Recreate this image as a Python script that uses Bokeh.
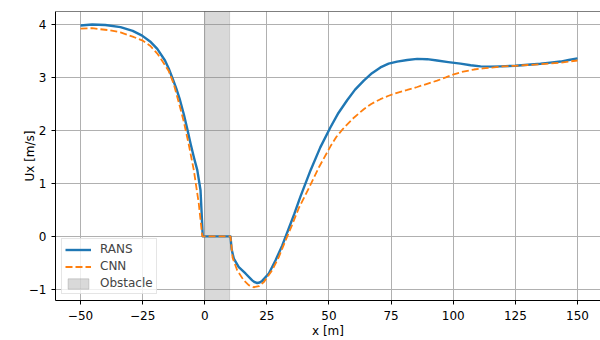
from bokeh.plotting import figure
from bokeh.models import Span, FixedTicker, Range1d, Legend, LegendItem
from bokeh.embed import file_html
from bokeh.resources import INLINE

# ---- data ----
rans_x = [-50, -45.3, -40, -33.9, -29, -25.2, -22, -19.1, -16, -14.5, -13.1, -11.5, -10, -8.4, -7, -5.7,
          -4.3, -3.0, -1.7, -0.8,
          10.36, 10.8, 11.7, 13.7, 16.4, 19.1, 20.1, 21.1, 22.1, 23.1, 25.8, 28.5, 31.2, 33.8, 36, 38.5,
          42.6, 46.5, 50.6, 53.8, 57.3, 60.5, 64.0, 67.3, 70.7, 74, 77.4, 81.5, 85.5, 89.5, 93.5, 98,
          102.9, 107, 111, 115, 119, 125, 130, 135.1, 139, 143.2, 146.5, 150]
rans_y = [3.98, 4.00, 3.99, 3.95, 3.88, 3.79, 3.68, 3.54, 3.32, 3.17, 3.00, 2.80, 2.58, 2.30, 2.02, 1.75,
          1.48, 1.25, 0.87, 0.0,
          0.0, -0.24, -0.42, -0.58, -0.70, -0.83, -0.865, -0.88, -0.87, -0.84, -0.70, -0.45, -0.17, 0.15, 0.42, 0.75,
          1.25, 1.68, 2.06, 2.33, 2.57, 2.77, 2.94, 3.08, 3.19, 3.26, 3.30, 3.33, 3.35, 3.345, 3.32, 3.29,
          3.26, 3.23, 3.21, 3.205, 3.21, 3.22, 3.24, 3.26, 3.28, 3.30, 3.33, 3.36]

cnn_x = [-50, -45.3, -42, -38, -33.9, -29, -25.2, -22, -19.1, -16.5, -14.5, -12.5, -10.4, -8.4, -6.5, -4.4,
         -2.4, -1.0, 10.36, 11.2, 13.05, 15.7, 17.7, 19.7, 21.8, 23.8, 27.1, 29.8, 32.5, 35, 38, 42,
         45.9, 50.6, 53, 56.0, 60, 64.0, 67, 70.7, 74, 77.4, 81.5, 85.5, 89.5, 93.5, 97, 100.2,
         104, 108.3, 112, 116.3, 120, 125, 130, 135.1, 139, 143.2, 146.5, 150]
cnn_y = [3.92, 3.93, 3.91, 3.89, 3.85, 3.77, 3.70, 3.60, 3.45, 3.27, 3.12, 2.88, 2.52, 2.16, 1.75, 1.25,
         0.62, 0.0, 0.0, -0.40, -0.64, -0.83, -0.92, -0.96, -0.94, -0.86, -0.64, -0.39, -0.08, 0.20, 0.55, 0.92,
         1.30, 1.70, 1.88, 2.05, 2.24, 2.40, 2.50, 2.59, 2.655, 2.71, 2.765, 2.82, 2.88, 2.94, 3.00, 3.06,
         3.11, 3.15, 3.17, 3.19, 3.21, 3.22, 3.235, 3.25, 3.265, 3.28, 3.30, 3.32]

obstacle_left = [0]
obstacle_right = [10]

x_ticks = [-50, -25, 0, 25, 50, 75, 100, 125, 150]
y_ticks = [-1, 0, 1, 2, 3, 4]

FONT = "DejaVu Sans"
FS = "12px"
X0, X1 = -60.06, 159.26
Y0, Y1 = -1.21, 4.245

p = figure(width=600, height=340, output_backend="svg", toolbar_location=None,
           x_range=Range1d(X0, X1), y_range=Range1d(Y0, Y1),
           min_border_left=55, min_border_right=0, min_border_top=11, min_border_bottom=40)
p.outline_line_color = None
p.background_fill_color = "white"

obs = p.quad(left=obstacle_left, right=obstacle_right, bottom=[-100], top=[100],
             fill_color="gray", fill_alpha=0.3, line_color="gray", line_alpha=0.3)
r1 = p.line(rans_x, rans_y, line_color="#1f77b4", line_width=2.4, line_join="round")
r2 = p.line(cnn_x, cnn_y, line_color="#ff7f0e", line_width=1.8, line_dash="7 3")

p.add_layout(Span(location=Y1, dimension="width", line_color="black", line_width=1))

for ax in (p.xaxis[0], p.yaxis[0]):
    ax.axis_line_color = "black"
    ax.major_tick_line_color = "black"
    ax.major_tick_in = 0
    ax.major_tick_out = 4
    ax.minor_tick_line_color = None
    ax.major_label_text_font = FONT
    ax.major_label_text_font_size = FS
    ax.major_label_text_color = "black"
    ax.axis_label_text_font = FONT
    ax.axis_label_text_font_size = FS
    ax.axis_label_text_font_style = "normal"
    ax.axis_label_text_color = "black"

p.xaxis.ticker = FixedTicker(ticks=x_ticks)
p.yaxis.ticker = FixedTicker(ticks=y_ticks)
p.xaxis.major_label_overrides = {t: str(t).replace("-", "\u2212") for t in x_ticks}
p.yaxis.major_label_overrides = {t: str(t).replace("-", "\u2212") for t in y_ticks}
p.xaxis.axis_label = "x [m]"
p.yaxis.axis_label = "Ux [m/s]"
p.xaxis.major_label_standoff = 6
p.yaxis.major_label_standoff = 5
p.xaxis.axis_label_standoff = 1
p.yaxis.axis_label_standoff = -11

p.xgrid.ticker = FixedTicker(ticks=x_ticks)
p.ygrid.ticker = FixedTicker(ticks=y_ticks)
p.grid.grid_line_color = "#b0b0b0"
p.grid.grid_line_width = 1

legend = Legend(items=[LegendItem(label="RANS", renderers=[r1]),
                       LegendItem(label="CNN", renderers=[r2]),
                       LegendItem(label="Obstacle", renderers=[obs])],
                location="bottom_left")
legend.margin = 6
legend.padding = 3
legend.spacing = 3
legend.glyph_width = 26
legend.glyph_height = 13
legend.label_height = 13
legend.label_standoff = 9
legend.label_text_font = FONT
legend.label_text_font_size = FS
legend.border_line_color = "#cccccc"
legend.border_line_width = 1
legend.background_fill_alpha = 0.8
p.add_layout(legend)

open("out.html", "w").write(file_html(p, INLINE))
